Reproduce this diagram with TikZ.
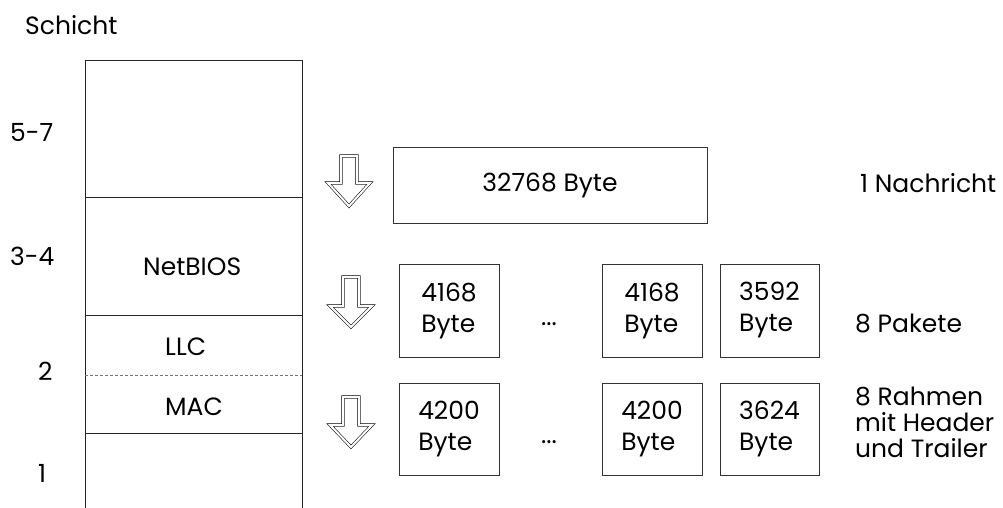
\documentclass[tikz,border=0pt]{standalone}
\usepackage{fontspec}
\setmainfont{Poppins}
\begin{document}
\begin{tikzpicture}[x=1pt,y=-1pt,
  txt/.style={font=\fontsize{25}{31}\selectfont, inner sep=0pt, anchor=base west},
  ctxt/.style={font=\fontsize{25}{31}\selectfont, inner sep=0pt, anchor=base},
  frame/.style={draw=black!85, line width=0.9pt},
  pbox/.style={draw=black!80, line width=0.9pt, inner sep=0pt, font=\fontsize{25}{31}\selectfont, align=left},
  hollowarrow/.style={draw=black, line width=0.55pt, double=white, double distance=2pt, line join=miter}
]
\useasboundingbox (0,0) rectangle (1003,508);

% layer stack
\coordinate (tl) at (85,60);
\coordinate (tr) at (302,60);
\coordinate (bl) at (85,508);
\coordinate (br) at (302,508);
\draw[frame] (bl) -- (tl) -- (tr) -- (br);
\coordinate (l1a) at (85,197); \coordinate (l1b) at (302,197);
\coordinate (l2a) at (85,315); \coordinate (l2b) at (302,315);
\coordinate (l3a) at (85,375); \coordinate (l3b) at (302,375);
\coordinate (l4a) at (85,433); \coordinate (l4b) at (302,433);
\draw[frame] (l1a) -- (l1b);
\draw[frame] (l2a) -- (l2b);
\draw[draw=black!55, line width=0.8pt, dash pattern=on 3pt off 2pt] (l3a) -- (l3b);
\draw[frame] (l4a) -- (l4b);

% layer labels
\node[txt] (schicht) at (25,35) {Schicht};
\node[txt] (s57) at (10,142) {5-7};
\node[txt] (s34) at (10,265) {3-4};
\node[txt] (s2) at (38,380) {2};
\node[txt] (s1) at (38,482) {1};
\node[txt] (netbios) at (143,275) {NetBIOS};
\node[txt] (llc) at (165,355) {LLC};
\node[txt] (mac) at (165,415) {MAC};

% arrows
\draw[hollowarrow] (341,156) -- (357,156) -- (357,183) -- (370,183) -- (349,206) -- (328,183) -- (341,183) -- cycle;
\draw[hollowarrow] (343,277) -- (359,277) -- (359,306) -- (372,306) -- (351,327) -- (330,306) -- (343,306) -- cycle;
\draw[hollowarrow] (343,397) -- (359,397) -- (359,425) -- (372,425) -- (351,447) -- (330,425) -- (343,425) -- cycle;

% message
\node[pbox, minimum width=314pt, minimum height=76pt] (msg) at (550,185) {32768 Byte};

% packets
\node[pbox, minimum width=100pt, minimum height=93pt] (p1) at (449,310.5) {4168\\Byte};
\node[ctxt] (pdots) at (549,325) {...};
\node[pbox, minimum width=100pt, minimum height=93pt] (p2) at (652,310.5) {4168\\Byte};
\node[pbox, minimum width=99pt, minimum height=93pt] (p3) at (769.5,310.5) {3592\\Byte};

% frames
\node[pbox, minimum width=100pt, minimum height=92pt] (f1) at (449,429) {4200\\Byte};
\node[ctxt] (fdots) at (549,443) {...};
\node[pbox, minimum width=100pt, minimum height=92pt] (f2) at (652,429) {4200\\Byte};
\node[pbox, minimum width=99pt, minimum height=92pt] (f3) at (769.5,429) {3624\\Byte};

% right labels
\node[txt] (nachricht) at (860,192) {1 Nachricht};
\node[txt] (pakete) at (855,332) {8 Pakete};
\node[txt, align=left, anchor=north west, font=\fontsize{25}{26}\selectfont] (rahmen) at (855,387) {8 Rahmen\\mit Header\\und Trailer};
\end{tikzpicture}
\end{document}
